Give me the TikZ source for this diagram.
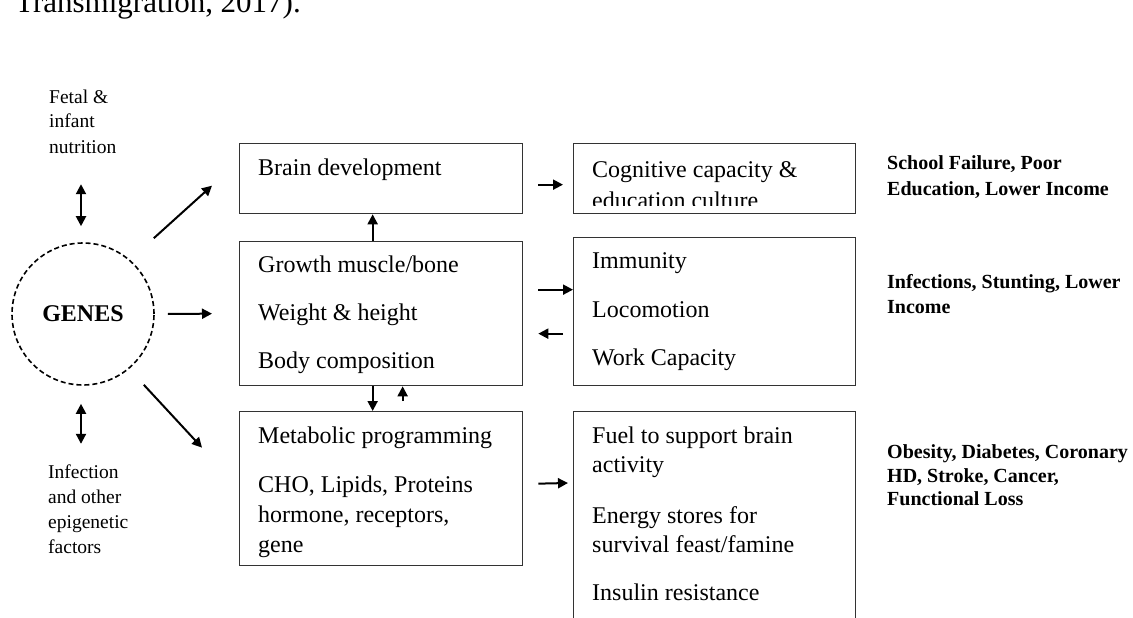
\documentclass[tikz,border=0pt]{standalone}
\usepackage{fontspec}
\setmainfont{Liberation Serif}
\usetikzlibrary{arrows.meta,positioning,calc}

\definecolor{boxLine}{HTML}{333333}

\begin{document}
\begin{tikzpicture}[x=1pt, y=-1pt,
  box/.style={draw=boxLine, line width=1.3pt, rectangle, anchor=north west,
    inner sep=0pt, minimum width=283pt, fill=white},
  boxtext/.style={anchor=base west, inner sep=0pt, font=\fontsize{24}{29}\selectfont},
  sidetext/.style={anchor=base west, inner sep=0pt, font=\fontsize{19.5}{25}\selectfont},
  outcome/.style={anchor=base west, inner sep=0pt, font=\fontsize{20}{25}\selectfont\bfseries},
  arr/.style={-{Triangle[length=10pt,width=10pt]}, line width=2pt},
  dbl/.style={{Triangle[length=10pt,width=10pt]}-{Triangle[length=10pt,width=10pt]}, line width=2pt}]
  \useasboundingbox (0,0) rectangle (1133,618);
  \clip (0,0) rectangle (1133,618);

  % cut-off caption line
  \node[anchor=base west, inner sep=0pt, font=\fontsize{31}{31}\selectfont] (cite) at (15,13) {Transmigration, 2017).};

  % boxes
  \node[box, minimum height=70pt] (brain) at (239,143) {};
  \node[box, minimum height=144pt] (growth) at (239,241) {};
  \node[box, minimum height=154pt] (metab) at (239,411) {};
  \node[box, minimum width=282pt, minimum height=70pt] (cogn) at (573,143) {};
  \node[box, minimum width=282pt, minimum height=148pt] (immun) at (573,237) {};
  \node[box, minimum width=282pt, minimum height=240pt] (fuel) at (573,411) {};

  % box texts
  \foreach \b/\dy/\txt in {brain/32/{Brain development},
      growth/31/{Growth muscle/bone}, growth/79/{Weight \& height}, growth/127/{Body composition},
      metab/32/{Metabolic programming}, metab/81/{CHO, Lipids, Proteins},
      metab/111/{hormone, receptors,}, metab/141/{gene},
      cogn/34/{Cognitive capacity \&},
      immun/31/{Immunity}, immun/80/{Locomotion}, immun/128/{Work Capacity},
      fuel/32/{Fuel to support brain}, fuel/61/{activity}, fuel/112/{Energy stores for},
      fuel/141/{survival feast/famine}, fuel/189/{Insulin resistance}}{
    \node[boxtext] (\b-\dy) at ($(\b.north west)+(19,\dy)$) {\txt};
  }
  \begin{scope}
    \clip (cogn.north west) rectangle ($(cogn.south east)+(0,-9)$);
    \node[boxtext] (cogn-65) at ($(cogn.north west)+(19,65)$) {education culture};
  \end{scope}

  % genes and side factors
  \node[circle, draw, dash pattern=on 5pt off 3pt, line width=1.6pt, minimum size=142pt, inner sep=0pt,
    font=\fontsize{24}{24}\selectfont\bfseries] (genes) at (83,314) {GENES};
  \foreach \n/\y/\txt in {1/103/{Fetal \&}, 2/128/{infant}, 3/153/{nutrition}}
    \node[sidetext] (fetal-\n) at (49,\y) {\txt};
  \foreach \n/\y/\txt in {1/478/{Infection}, 2/503/{and other}, 3/528/{epigenetic}, 4/553/{factors}}
    \node[sidetext] (infect-\n) at (48,\y) {\txt};

  % outcomes
  \foreach \n/\y/\txt in {1/169/{School Failure, Poor}, 2/195/{Education, Lower Income}}
    \node[outcome] (school-\n) at (887,\y) {\txt};
  \foreach \n/\y/\txt in {1/288/{Infections, Stunting, Lower}, 2/313/{Income}}
    \node[outcome] (stunt-\n) at (887,\y) {\txt};
  \foreach \n/\y/\txt in {1/458/{Obesity, Diabetes, Coronary}, 2/482/{HD, Stroke, Cancer,}, 3/505/{Functional Loss}}
    \node[outcome] (obese-\n) at (887,\y) {\txt};

  % connectors
  \draw[dbl] ($(genes.north)+(-2,-58)$) -- ($(genes.north)+(-2,-16)$);
  \draw[dbl] ($(genes.south)+(-2,18)$) -- ($(genes.south)+(-2,58)$);
  \draw[arr] ($(genes.north east)+(20,-25)$) -- ($(brain.west)+(-27,7)$);
  \draw[arr] ($(genes.east)+(13,0)$) -- ($(growth.west)+(-27,0)$);
  \draw[arr] ($(genes.south east)+(10,20)$) -- ($(metab.west)+(-37,-41)$);

  \draw[arr] ($(growth.north)+(-8.5,0)$) -- ($(brain.south)+(-8.5,0)$);
  \draw[arr] ($(growth.south)+(-8.5,0)$) -- ($(metab.north)+(-8.5,0)$);
  \draw[arr] ($(metab.north)+(21.5,-10)$) -- ($(growth.south)+(21.5,0)$);

  \draw[arr] ($(brain.east)+(15,6)$) -- ($(cogn.west)+(-10,6)$);
  \draw[arr] ($(growth.east)+(15,-24)$) -- ($(immun.west)+(0,-22)$);
  \draw[arr] ($(immun.west)+(-10,22)$) -- ($(growth.east)+(15,20)$);
  \draw[arr] ($(metab.east)+(15,-5)$) -- ($(fuel.north west)+(-5,72)$);
\end{tikzpicture}
\end{document}
